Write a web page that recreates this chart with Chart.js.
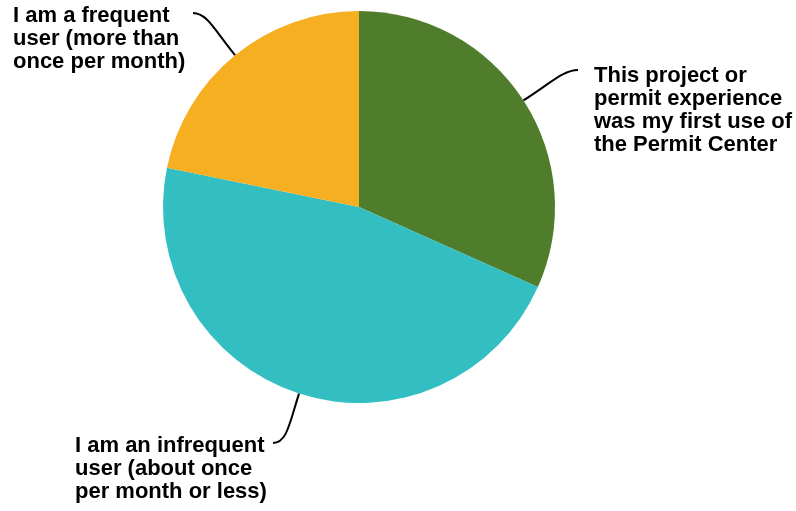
<!DOCTYPE html>
<html>
<head>
<meta charset="utf-8">
<script src="https://cdn.jsdelivr.net/npm/chart.js@4.4.1/dist/chart.umd.min.js"></script>
<style>
    html, body { margin: 0; padding: 0; background: #fff; }
    #wrap { width: 796px; height: 511px; }
</style>
</head>
<body>
<div id="wrap"><canvas id="pie"></canvas></div>
<script>
// Respuestas (orden horario desde las 12)
const categories = [
    ['This project or', 'permit experience', 'was my first use of', 'the Permit Center'],
    ['I am an infrequent', 'user (about once', 'per month or less)'],
    ['I am a frequent', 'user (more than', 'once per month)']
];
const shares = [31.7, 46.5, 21.8];
const sliceColors = ['#4f7d2b', '#33bfc1', '#f6af20'];

// Donde termina cada linea guia y donde va el texto
const labelLayout = [
    { end: [578, 70], side: 1, textX: 594, firstBase: 82 },
    { end: [273, 443], side: -1, textX: 75, firstBase: 452 },
    { end: [193, 13], side: -1, textX: 13, firstBase: 22 }
];
const LINE_H = 23;
const FONT = 'bold 22px "Liberation Sans", Arial, sans-serif';

const calloutPlugin = {
    id: 'callouts',
    afterDraw(chart) {
        const ctx = chart.ctx;
        const arcs = chart.getDatasetMeta(0).data;
        ctx.save();
        arcs.forEach((arc, i) => {
            const lay = labelLayout[i];
            const mid = (arc.startAngle + arc.endAngle) / 2;
            const cx = Math.cos(mid), cy = Math.sin(mid);
            const x0 = arc.x + cx * arc.outerRadius;
            const y0 = arc.y + cy * arc.outerRadius;
            const [x3, y3] = lay.end;
            const d = Math.hypot(x3 - x0, y3 - y0);
            ctx.beginPath();
            ctx.moveTo(x0, y0);
            ctx.bezierCurveTo(
                x0 + cx * d * 0.55, y0 + cy * d * 0.55,
                x3 - lay.side * 14, y3,
                x3, y3
            );
            ctx.strokeStyle = '#000';
            ctx.lineWidth = 2;
            ctx.stroke();

            ctx.fillStyle = '#000';
            ctx.font = FONT;
            ctx.textAlign = 'left';
            ctx.textBaseline = 'alphabetic';
            categories[i].forEach((line, j) => {
                ctx.fillText(line, lay.textX, lay.firstBase + j * LINE_H);
            });
        });
        ctx.restore();
    }
};

new Chart(document.getElementById('pie'), {
    type: 'pie',
    data: {
        labels: categories.map(c => c.join(' ')),
        datasets: [{
            data: shares,
            backgroundColor: sliceColors,
            borderWidth: 0
        }]
    },
    options: {
        responsive: true,
        maintainAspectRatio: false,
        animation: false,
        layout: { padding: { left: 163, right: 241, top: 11, bottom: 108 } },
        plugins: {
            legend: { display: false },
            tooltip: { enabled: false }
        }
    },
    plugins: [calloutPlugin]
});
</script>
</body>
</html>
